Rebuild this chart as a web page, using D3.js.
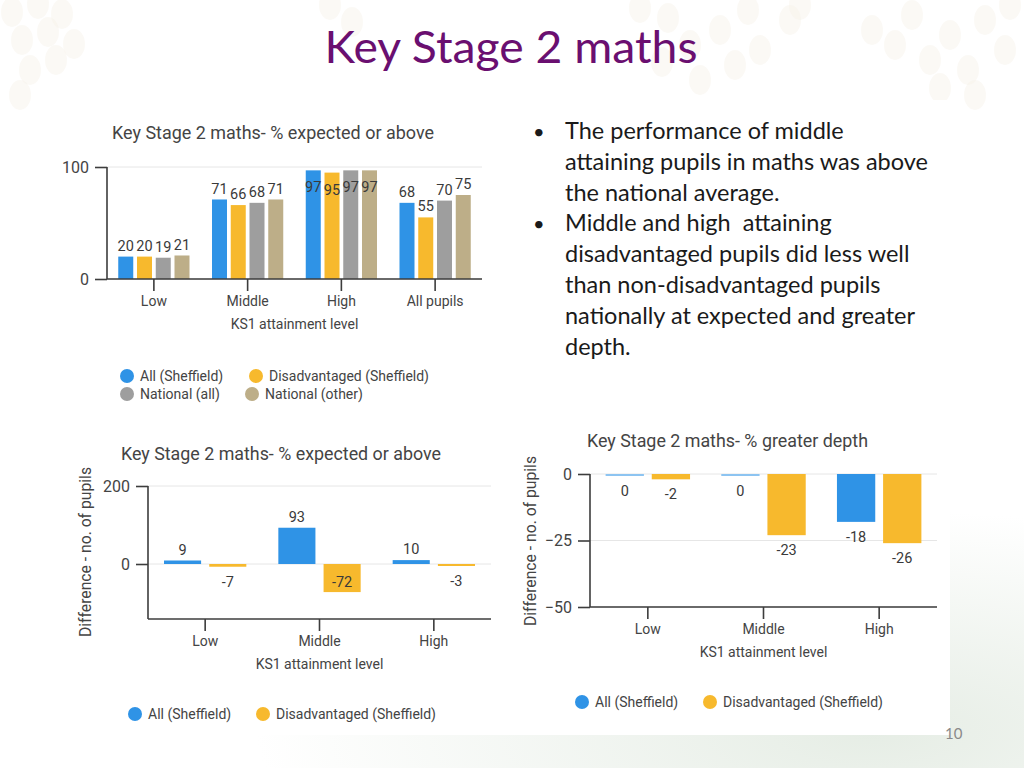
<!DOCTYPE html>
<html>
<head>
<meta charset="utf-8">
<script src="https://cdn.jsdelivr.net/npm/d3@7"></script>
<style>
  html, body { margin: 0; padding: 0; background: #ffffff; }
  svg { display: block; }
  .pre { white-space: pre; }
</style>
</head>
<body>
<svg id="slide" width="1024" height="768"></svg>
<script>
// ---------------- DATA ----------------
const slideTitle = "Key Stage 2 maths";
const bulletLines = [
  ["The performance of middle", "attaining pupils in maths was above", "the national average."],
  ["Middle and high  attaining", "disadvantaged pupils did less well", "than non-disadvantaged pupils", "nationally at expected and greater", "depth."]
];
const pageNumber = "10";

// Chart 1: % expected or above
const chart1Title = "Key Stage 2 maths- % expected or above";
const chart1Categories = ["Low", "Middle", "High", "All pupils"];
const chart1Series = ["All (Sheffield)", "Disadvantaged (Sheffield)", "National (all)", "National (other)"];
const chart1AllSheffield = [20, 71, 97, 68];
const chart1DisadvSheffield = [20, 66, 95, 55];
const chart1NationalAll = [19, 68, 97, 70];
const chart1NationalOther = [21, 71, 97, 75];
const chart1Ticks = [0, 100];

// Chart 2: difference, expected or above
const chart2Title = "Key Stage 2 maths- % expected or above";
const chart2Categories = ["Low", "Middle", "High"];
const chart2Series = ["All (Sheffield)", "Disadvantaged (Sheffield)"];
const chart2AllSheffield = [9, 93, 10];
const chart2DisadvSheffield = [-7, -72, -3];
const chart2Ticks = [0, 200];

// Chart 3: difference, greater depth
const chart3Title = "Key Stage 2 maths- % greater depth";
const chart3Categories = ["Low", "Middle", "High"];
const chart3Series = ["All (Sheffield)", "Disadvantaged (Sheffield)"];
const chart3AllSheffield = [0, 0, -18];
const chart3DisadvSheffield = [-2, -23, -26];
const chart3Ticks = [0, -25, -50];

const xAxisTitle = "KS1 attainment level";
const yAxisTitle = "Difference - no. of pupils";

// ---------------- STYLE ----------------
const seriesColors = ["#2f93e6", "#f7b92d", "#9e9e9e", "#bdae88"];
const chartFont = "Roboto, 'Liberation Sans', sans-serif";
const textColor = "#444444";
const axisColor = "#3d3d3d";
const gridColor = "#e6e6e6";

const svg = d3.select("#slide");

// ---------------- BACKGROUND ----------------
const defs = svg.append("defs");
const rg = defs.append("radialGradient").attr("id", "greenGlow")
  .attr("cx", "0.85").attr("cy", "0.9").attr("r", "0.6");
rg.append("stop").attr("offset", "0").attr("stop-color", "#e3ebe2");
rg.append("stop").attr("offset", "1").attr("stop-color", "#ffffff");
svg.append("rect").attr("x", 0).attr("y", 0).attr("width", 1024).attr("height", 768).attr("fill", "#ffffff");
svg.append("rect").attr("x", 0).attr("y", 400).attr("width", 1024).attr("height", 368).attr("fill", "url(#greenGlow)").attr("opacity", 0.9);

// faint honeycomb decoration (top)
const hexDeco = [
  [12, 12], [38, 4], [62, 14], [22, 40], [48, 32], [74, 44], [30, 70], [56, 60], [20, 95],
  [330, 5], [352, 22], [640, 8], [668, 18], [690, 45], [662, 62], [700, 80], [720, 30],
  [748, 10], [735, 65], [760, 50], [790, 20], [800, 5],
  [872, 30], [895, 45], [912, 15], [930, 60], [950, 35], [968, 70], [985, 20], [1005, 50], [975, 95], [1010, 5], [940, 88]
];
svg.append("g").selectAll("ellipse").data(hexDeco).join("ellipse")
  .attr("cx", d => d[0]).attr("cy", d => d[1]).attr("rx", 11).attr("ry", 15)
  .attr("fill", "#f7f1e8").attr("opacity", 0.45);

// white content panel
svg.append("rect").attr("x", 52).attr("y", 100).attr("width", 898).attr("height", 635).attr("fill", "#ffffff");

// page number
svg.append("text").attr("x", 945).attr("y", 739).attr("font-family", "Lato, sans-serif")
  .attr("font-size", 15).attr("fill", "#8a8a8a").text(pageNumber);

// ---------------- SLIDE TEXT ----------------
svg.append("text").attr("x", 511).attr("y", 63).attr("text-anchor", "middle")
  .attr("font-family", "Lato, 'Open Sans', sans-serif").attr("font-size", 44)
  .attr("fill", "#6a0f70").attr("textLength", 373).attr("lengthAdjust", "spacingAndGlyphs")
  .text(slideTitle);

let lineIdx = 0;
const lineH = 30.8;
bulletLines.forEach(par => {
  par.forEach((ln, j) => {
    const yb = 139 + lineIdx * lineH;
    if (j === 0) {
      svg.append("text").attr("x", 533).attr("y", yb).attr("font-family", "Lato, sans-serif")
        .attr("font-size", 20).attr("fill", "#1a1a1a").text("\u2022");
    }
    svg.append("text").attr("class", "pre").attr("x", 565).attr("y", yb).attr("font-family", "Lato, sans-serif")
      .attr("font-size", 23.5).attr("fill", "#1a1a1a").text(ln);
    lineIdx++;
  });
});

// ---------------- CHART FUNCTION ----------------
function drawChart(cfg) {
  const g = svg.append("g");
  const x0 = d3.scaleBand().domain(cfg.categories).range([cfg.left, cfg.right])
    .paddingInner(cfg.padInner).paddingOuter(cfg.padOuter);
  const x1 = d3.scaleBand().domain(cfg.series).range([0, x0.bandwidth()]).paddingInner(cfg.subPad);
  const y = d3.scaleLinear().domain(cfg.domain).range([cfg.bottom, cfg.top]);
  const plotTop = cfg.top, plotBottom = cfg.bottom;

  // title
  g.append("text").attr("x", cfg.titleX).attr("y", cfg.titleY)
    .attr("font-family", chartFont).attr("font-size", 18).attr("fill", textColor)
    .attr("textLength", cfg.titleW).attr("lengthAdjust", "spacingAndGlyphs")
    .text(cfg.title);

  // gridlines
  g.append("g").selectAll("line").data(cfg.ticks).join("line")
    .attr("x1", cfg.left).attr("x2", cfg.right)
    .attr("y1", d => y(d)).attr("y2", d => y(d))
    .attr("stroke", gridColor).attr("stroke-width", 1);

  // y axis
  const yAxis = g.append("g").attr("transform", `translate(${cfg.left},0)`)
    .call(d3.axisLeft(y).tickValues(cfg.ticks).tickSize(12).tickPadding(6).tickFormat(d3.format("d")));
  yAxis.select(".domain").attr("d", `M0,${plotTop}V${plotBottom}`).attr("stroke", axisColor).attr("stroke-width", 1.6);
  yAxis.selectAll(".tick line").attr("stroke", axisColor).attr("stroke-width", 1.6);
  yAxis.selectAll(".tick text").attr("font-family", chartFont).attr("font-size", 16).attr("fill", textColor);

  // bars
  const rows = cfg.categories.map((c, i) => cfg.series.map((s, k) => ({ c, s, k, v: cfg.values[k][i] })));
  const bars = g.append("g").selectAll("g").data(rows).join("g")
    .attr("transform", d => `translate(${x0(d[0].c)},0)`);
  bars.selectAll("rect").data(d => d).join("rect")
    .attr("x", d => x1(d.s))
    .attr("width", x1.bandwidth())
    .attr("y", d => d.v >= 0 ? y(d.v) : y(0))
    .attr("height", d => Math.max(2, Math.abs(y(d.v) - y(0))))
    .attr("fill", d => d.v === 0 ? d3.interpolateRgb(seriesColors[d.k], "#ffffff")(0.45) : seriesColors[d.k]);

  // value labels
  bars.selectAll("text").data(d => d).join("text")
    .attr("x", d => x1(d.s) + x1.bandwidth() / 2)
    .attr("y", d => {
      const end = y(d.v);
      if (d.v > 0) {
        const c = end - 11;
        return (c - 8 < plotTop) ? end + 17 : c;
      } else {
        const c = y(0) + Math.max(2, y(d.v) - y(0)) + 15;
        return (c + 12 > plotBottom) ? end - 10 : c;
      }
    })
    .attr("dy", "0.35em").attr("text-anchor", "middle")
    .attr("font-family", chartFont).attr("font-size", 14.5).attr("fill", "#3a3a3a")
    .text(d => d.v);

  // x axis
  const xAxisY = cfg.xAxisY;
  const xAxis = g.append("g").attr("transform", `translate(0,${xAxisY})`)
    .call(d3.axisBottom(x0).tickSize(12).tickPadding(5));
  xAxis.select(".domain").attr("d", `M${cfg.left},0H${cfg.right}`).attr("stroke", axisColor).attr("stroke-width", 1.6);
  xAxis.selectAll(".tick line").attr("stroke", axisColor).attr("stroke-width", 1.6);
  xAxis.selectAll(".tick text").attr("font-family", chartFont).attr("font-size", 14).attr("fill", textColor);

  // x axis title
  g.append("text").attr("x", (cfg.left + cfg.right) / 2).attr("y", xAxisY + 50)
    .attr("text-anchor", "middle").attr("font-family", chartFont).attr("font-size", 14)
    .attr("fill", textColor).text(xAxisTitle);

  // y axis title
  if (cfg.yTitle) {
    g.append("text").attr("transform", `translate(${cfg.yTitleX},${cfg.yTitleY}) rotate(-90)`)
      .attr("text-anchor", "middle").attr("font-family", chartFont).attr("font-size", 16)
      .attr("fill", textColor).attr("textLength", 170).attr("lengthAdjust", "spacingAndGlyphs")
      .text(cfg.yTitle);
  }

  // legend
  const lg = g.append("g");
  cfg.legend.forEach((p, k) => {
    lg.append("circle").attr("cx", p[0]).attr("cy", p[1]).attr("r", 7).attr("fill", seriesColors[k]);
    lg.append("text").attr("x", p[0] + 13).attr("y", p[1]).attr("dy", "0.35em")
      .attr("font-family", chartFont).attr("font-size", 14).attr("fill", textColor)
      .text(cfg.series[k]);
  });
}

// ---------------- DRAW ----------------
drawChart({
  title: chart1Title, titleX: 112, titleY: 139, titleW: 322,
  categories: chart1Categories, series: chart1Series,
  values: [chart1AllSheffield, chart1DisadvSheffield, chart1NationalAll, chart1NationalOther],
  domain: [0, 100], ticks: chart1Ticks,
  left: 107, right: 482, top: 167, bottom: 279, xAxisY: 279,
  padInner: 0.24, padOuter: 0.12, subPad: 0.2,
  legend: [[127, 376], [256, 376], [127, 394], [252, 394]]
});

drawChart({
  title: chart2Title, titleX: 121, titleY: 460, titleW: 320,
  categories: chart2Categories, series: chart2Series,
  values: [chart2AllSheffield, chart2DisadvSheffield],
  domain: [-141, 200], ticks: chart2Ticks,
  left: 148, right: 491, top: 486, bottom: 619, xAxisY: 619,
  padInner: 0.28, padOuter: 0.14, subPad: 0.18,
  yTitle: yAxisTitle, yTitleX: 91, yTitleY: 552,
  legend: [[135, 714], [263, 714]]
});

drawChart({
  title: chart3Title, titleX: 587, titleY: 447, titleW: 281,
  categories: chart3Categories, series: chart3Series,
  values: [chart3AllSheffield, chart3DisadvSheffield],
  domain: [-50, 0], ticks: chart3Ticks,
  left: 590, right: 937, top: 474, bottom: 607, xAxisY: 607,
  padInner: 0.27, padOuter: 0.135, subPad: 0.17,
  yTitle: yAxisTitle, yTitleX: 536, yTitleY: 541,
  legend: [[582, 702], [710, 702]]
});
</script>
</body>
</html>
